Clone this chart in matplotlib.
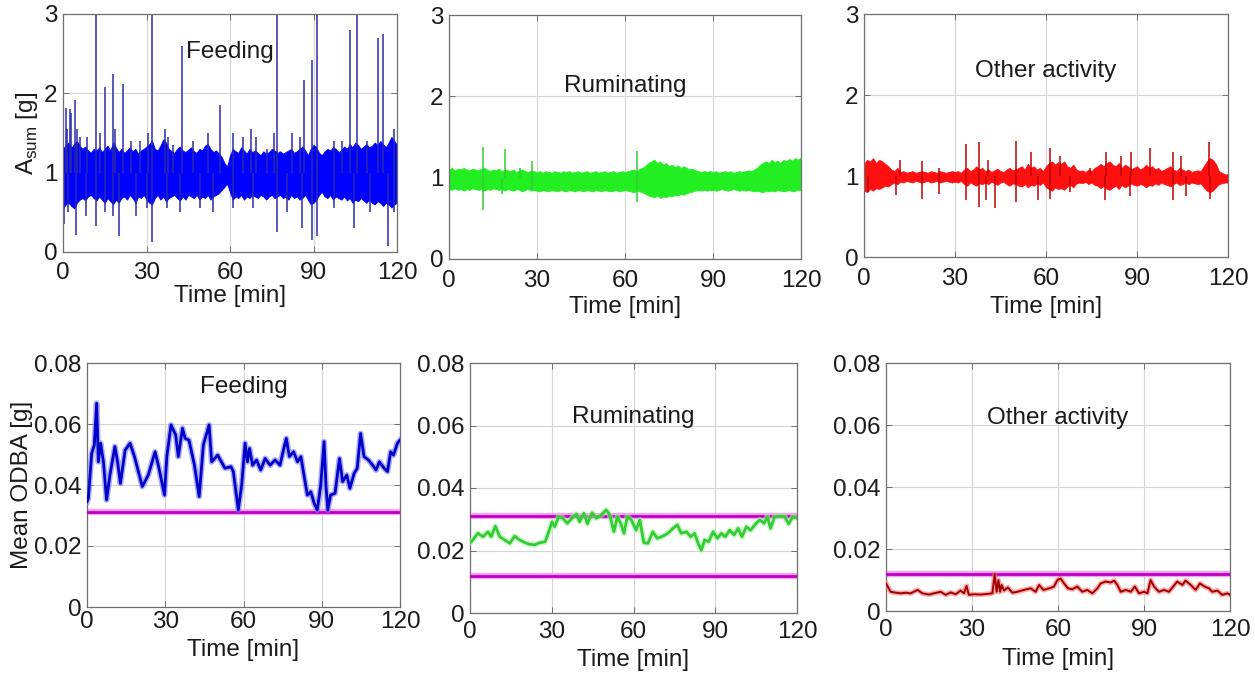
#!/usr/bin/env python3
"""
Raw acceleration (A_sum) and mean ODBA for three behaviours over 120 min.
Top row: dense raw trace (envelope + needles), bottom row: mean ODBA with thresholds.
"""

import numpy as np
import matplotlib
matplotlib.use("Agg")
import matplotlib.pyplot as plt

plt.rcParams["font.family"] = ["Liberation Sans", "DejaVu Sans"]
plt.rcParams["mathtext.fontset"] = "custom"
plt.rcParams["mathtext.rm"] = "Liberation Sans"

FS = 17.5
W, H = 1255, 675

# ---------------- top row: A_sum envelopes (per minute, t = 0..120) ----------------
t_min = np.arange(0, 121)

feed_hi = [1.30, 1.35, 1.38, 1.32, 1.36, 1.40, 1.34, 1.30, 1.33, 1.28,
           1.25, 1.30, 1.28, 1.32, 1.26, 1.30, 1.34, 1.28, 1.38, 1.32,
           1.26, 1.30, 1.25, 1.28, 1.32, 1.27, 1.30, 1.24, 1.28, 1.30,
           1.33, 1.36, 1.40, 1.30, 1.28, 1.34, 1.42, 1.38, 1.30, 1.27,
           1.25, 1.30, 1.33, 1.28, 1.26, 1.29, 1.32, 1.27, 1.25, 1.30,
           1.28, 1.34, 1.36, 1.30, 1.26, 1.28, 1.24, 1.20, 1.12, 1.08,
           1.22, 1.30, 1.27, 1.25, 1.32, 1.28, 1.24, 1.30, 1.26, 1.28,
           1.25, 1.22, 1.27, 1.24, 1.26, 1.30, 1.28, 1.25, 1.27, 1.24,
           1.26, 1.28, 1.30, 1.25, 1.27, 1.30, 1.33, 1.28, 1.22, 1.30,
           1.35, 1.32, 1.25, 1.22, 1.27, 1.30, 1.28, 1.32, 1.30, 1.26,
           1.28, 1.33, 1.30, 1.36, 1.32, 1.38, 1.35, 1.30, 1.33, 1.36,
           1.32, 1.34, 1.38, 1.35, 1.40, 1.36, 1.32, 1.38, 1.45, 1.40,
           1.35]
feed_lo = [0.55, 0.60, 0.62, 0.58, 0.55, 0.62, 0.66, 0.68, 0.65, 0.70,
           0.72, 0.68, 0.65, 0.70, 0.66, 0.62, 0.68, 0.64, 0.60, 0.66,
           0.62, 0.68, 0.70, 0.66, 0.72, 0.68, 0.62, 0.70, 0.68, 0.72,
           0.66, 0.62, 0.60, 0.68, 0.72, 0.66, 0.70, 0.64, 0.68, 0.70,
           0.72, 0.68, 0.65, 0.70, 0.66, 0.72, 0.70, 0.68, 0.72, 0.66,
           0.70, 0.68, 0.72, 0.66, 0.70, 0.72, 0.74, 0.78, 0.82, 0.86,
           0.75, 0.66, 0.70, 0.68, 0.72, 0.66, 0.70, 0.68, 0.72, 0.70,
           0.68, 0.72, 0.70, 0.66, 0.70, 0.72, 0.68, 0.70, 0.72, 0.68,
           0.70, 0.66, 0.72, 0.68, 0.70, 0.66, 0.68, 0.72, 0.66, 0.60,
           0.62, 0.66, 0.72, 0.76, 0.70, 0.68, 0.72, 0.66, 0.70, 0.68,
           0.66, 0.70, 0.65, 0.68, 0.62, 0.66, 0.64, 0.68, 0.65, 0.62,
           0.66, 0.62, 0.60, 0.64, 0.62, 0.58, 0.62, 0.60, 0.56, 0.60,
           0.62]
feed_spike_t = [1.0, 1.6, 2.4, 3.0, 4.2, 5.0, 6.0, 8.6, 11.8, 13.2, 15.0, 18.0,
                18.6, 21.6, 24.6, 27.6, 30.6, 32.0, 36.6, 37.8, 39.6, 42.6, 46.8,
                52.2, 56.4, 61.2, 64.8, 67.4, 69.4, 73.2, 75.8, 76.8, 82.2, 85.2,
                86.6, 89.4, 91.4, 97.2, 100.2, 103.0, 105.8, 109.2, 113.2, 114.8,
                118.8,
                0.3, 1.8, 4.5, 8.4, 11.8, 15.0, 18.0, 20.0, 26.4, 30.0, 32.0,
                37.2, 42.0, 49.2, 54.0, 61.2, 68.4, 76.8, 80.4, 85.8, 89.4, 91.4,
                97.2, 104.4, 110.4, 116.8, 118.8]
feed_spike_v = [1.82, 1.55, 1.80, 1.75, 1.92, 1.55, 1.45, 1.45, 3.00, 1.50, 2.08,
                2.25, 1.55, 2.12, 1.40, 1.40, 1.50, 3.00, 1.55, 1.45, 1.35, 2.60,
                1.40, 1.50, 1.85, 1.50, 1.45, 1.55, 1.45, 1.30, 1.50, 3.00, 1.50,
                1.45, 2.17, 2.42, 3.00, 1.40, 1.40, 2.80, 3.00, 1.40, 2.70, 2.75,
                1.55,
                0.35, 0.50, 0.22, 0.45, 0.33, 0.50, 0.45, 0.20, 0.45, 0.55, 0.12,
                0.55, 0.50, 0.55, 0.50, 0.55, 0.55, 0.25, 0.50, 0.30, 0.15, 0.20,
                0.55, 0.30, 0.50, 0.08, 0.50]

rum_hi = [1.10, 1.12, 1.09, 1.11, 1.10, 1.12, 1.10, 1.09, 1.11, 1.10,
          1.09, 1.11, 1.12, 1.10, 1.08, 1.10, 1.09, 1.11, 1.08, 1.10,
          1.09, 1.08, 1.10, 1.07, 1.09, 1.10, 1.08, 1.07, 1.09, 1.08,
          1.07, 1.08, 1.06, 1.08, 1.07, 1.06, 1.08, 1.07, 1.06, 1.08,
          1.07, 1.08, 1.06, 1.07, 1.08, 1.06, 1.07, 1.08, 1.06, 1.07,
          1.08, 1.06, 1.07, 1.08, 1.06, 1.07, 1.08, 1.06, 1.07, 1.08,
          1.07, 1.08, 1.09, 1.10, 1.08, 1.11, 1.12, 1.15, 1.18, 1.20,
          1.22, 1.18, 1.20, 1.16, 1.18, 1.14, 1.16, 1.13, 1.15, 1.12,
          1.14, 1.12, 1.10, 1.11, 1.09, 1.08, 1.07, 1.08, 1.07, 1.08,
          1.07, 1.08, 1.06, 1.07, 1.08, 1.07, 1.08, 1.06, 1.07, 1.08,
          1.07, 1.08, 1.09, 1.08, 1.10, 1.12, 1.16, 1.18, 1.20, 1.18,
          1.22, 1.19, 1.21, 1.18, 1.22, 1.20, 1.23, 1.21, 1.24, 1.22,
          1.25]
rum_lo = [0.86, 0.85, 0.87, 0.85, 0.86, 0.84, 0.86, 0.85, 0.87, 0.86,
          0.85, 0.86, 0.84, 0.86, 0.85, 0.87, 0.86, 0.85, 0.86, 0.84,
          0.86, 0.85, 0.84, 0.86, 0.85, 0.83, 0.85, 0.86, 0.84, 0.85,
          0.84, 0.83, 0.85, 0.84, 0.83, 0.85, 0.84, 0.83, 0.85, 0.84,
          0.83, 0.85, 0.84, 0.83, 0.85, 0.84, 0.83, 0.85, 0.84, 0.83,
          0.85, 0.84, 0.83, 0.85, 0.84, 0.83, 0.84, 0.85, 0.83, 0.84,
          0.85, 0.84, 0.83, 0.82, 0.84, 0.83, 0.82, 0.80, 0.78, 0.77,
          0.76, 0.78, 0.75, 0.77, 0.76, 0.78, 0.77, 0.79, 0.78, 0.80,
          0.79, 0.81, 0.82, 0.83, 0.84, 0.85, 0.84, 0.85, 0.84, 0.85,
          0.85, 0.84, 0.85, 0.86, 0.85, 0.84, 0.85, 0.86, 0.85, 0.84,
          0.85, 0.84, 0.85, 0.84, 0.83, 0.84, 0.83, 0.82, 0.84, 0.83,
          0.84, 0.83, 0.85, 0.84, 0.83, 0.84, 0.85, 0.83, 0.84, 0.85,
          0.85]
rum_spike_t = [11.6, 19.2, 24.1, 28.2, 64.0, 11.6, 18.0, 28.2, 64.0]
rum_spike_v = [1.38, 1.35, 1.12, 1.20, 1.33, 0.60, 0.80, 0.85, 0.70]

oth_hi = [1.15, 1.20, 1.18, 1.22, 1.16, 1.20, 1.18, 1.15, 1.12, 1.08,
          1.06, 1.10, 1.05, 1.06, 1.04, 1.05, 1.06, 1.04, 1.05, 1.06,
          1.05, 1.04, 1.06, 1.05, 1.04, 1.06, 1.05, 1.04, 1.05, 1.06,
          1.05, 1.06, 1.04, 1.08, 1.10, 1.06, 1.08, 1.12, 1.08, 1.10,
          1.06, 1.08, 1.05, 1.07, 1.09, 1.06, 1.05, 1.08, 1.10, 1.07,
          1.08, 1.10, 1.12, 1.08, 1.15, 1.10, 1.12, 1.08, 1.10, 1.06,
          1.12, 1.16, 1.18, 1.14, 1.17, 1.15, 1.18, 1.12, 1.10, 1.14,
          1.08, 1.06, 1.07, 1.05, 1.08, 1.06, 1.10, 1.12, 1.15, 1.12,
          1.16, 1.18, 1.14, 1.12, 1.16, 1.10, 1.14, 1.12, 1.08, 1.10,
          1.12, 1.08, 1.10, 1.14, 1.10, 1.12, 1.08, 1.10, 1.06, 1.08,
          1.10, 1.12, 1.08, 1.06, 1.10, 1.08, 1.06, 1.08, 1.05, 1.06,
          1.07, 1.06, 1.12, 1.18, 1.22, 1.20, 1.15, 1.06, 1.04, 1.02,
          1.02]
oth_lo = [0.82, 0.80, 0.84, 0.82, 0.85, 0.84, 0.86, 0.88, 0.87, 0.90,
          0.92, 0.90, 0.93, 0.92, 0.94, 0.93, 0.92, 0.94, 0.93, 0.92,
          0.93, 0.94, 0.92, 0.93, 0.94, 0.92, 0.93, 0.94, 0.93, 0.92,
          0.93, 0.92, 0.94, 0.90, 0.88, 0.92, 0.90, 0.88, 0.91, 0.90,
          0.92, 0.90, 0.93, 0.91, 0.89, 0.92, 0.93, 0.90, 0.88, 0.91,
          0.90, 0.88, 0.87, 0.90, 0.86, 0.89, 0.88, 0.91, 0.89, 0.92,
          0.86, 0.84, 0.82, 0.86, 0.84, 0.85, 0.83, 0.87, 0.89, 0.86,
          0.91, 0.92, 0.91, 0.93, 0.90, 0.92, 0.89, 0.88, 0.85, 0.88,
          0.84, 0.83, 0.86, 0.88, 0.84, 0.89, 0.86, 0.88, 0.91, 0.89,
          0.88, 0.90, 0.89, 0.86, 0.89, 0.88, 0.91, 0.89, 0.92, 0.90,
          0.89, 0.87, 0.90, 0.92, 0.89, 0.90, 0.92, 0.90, 0.92, 0.91,
          0.90, 0.91, 0.86, 0.82, 0.80, 0.82, 0.86, 0.90, 0.91, 0.92,
          0.92]
oth_spike_t = [11.8, 19.2, 24.7, 33.7, 37.9, 40.9, 50.2, 55.2, 61.2, 64.5, 74.4,
               79.7, 84.8, 88.1, 94.2, 101.9, 104.6, 113.7,
               1.3, 10.7, 19.0, 24.7, 33.7, 37.9, 40.3, 43.3, 50.2, 57.4, 61.2,
               67.8, 79.3, 87.6, 101.9, 106.3, 114.0]
oth_spike_v = [1.20, 1.18, 1.10, 1.40, 1.42, 1.20, 1.43, 1.30, 1.35, 1.25, 1.10,
               1.30, 1.25, 1.30, 1.35, 1.30, 1.25, 1.42,
               0.80, 0.77, 0.72, 0.78, 0.70, 0.62, 0.70, 0.60, 0.68, 0.70, 0.72,
               0.80, 0.70, 0.75, 0.70, 0.75, 0.72]

# ---------------- bottom row: mean ODBA ----------------
feed_odba_t = [0.0, 0.5, 1.8, 2.8, 3.7, 4.35, 5.2, 6.3, 7.5, 8.8, 10.7, 11.8,
               12.8, 14.6, 16.5, 18.2, 21.2, 23.5, 26.1, 27.6, 29.7, 30.6, 32.2,
               34.0, 35.0, 36.6, 37.6, 39.1, 41.2, 43.0, 44.6, 46.8, 47.8, 50.1,
               52.9, 55.2, 56.1, 58.0, 59.3, 60.6, 61.5, 62.3, 63.5, 65.0, 66.6,
               68.3, 70.2, 72.1, 74.0, 75.3, 76.4, 77.6, 79.2, 80.7, 82.0, 83.6,
               84.5, 85.8, 87.1, 88.3, 89.6, 90.9, 91.6, 92.3, 93.4, 95.1, 96.8,
               98.0, 99.6, 100.8, 102.4, 103.6, 104.9, 106.2, 107.9, 109.5, 110.8,
               112.1, 113.9, 115.2, 116.4, 117.5, 119.0, 120.0]
feed_odba_v = [0.0345, 0.0356, 0.0504, 0.0531, 0.0668, 0.0476, 0.0537, 0.0476,
               0.0351, 0.0433, 0.0526, 0.0471, 0.0405, 0.0514, 0.0537, 0.0493,
               0.0395, 0.0433, 0.0509, 0.0455, 0.0367, 0.0493, 0.0597, 0.0564,
               0.0493, 0.0586, 0.0553, 0.0547, 0.0465, 0.0362, 0.0531, 0.0597,
               0.0476, 0.0498, 0.0455, 0.0460, 0.0444, 0.0318, 0.0400, 0.0537,
               0.0476, 0.0520, 0.0465, 0.0482, 0.0449, 0.0487, 0.0465, 0.0482,
               0.0465, 0.0514, 0.0553, 0.0493, 0.0509, 0.0476, 0.0493, 0.0411,
               0.0367, 0.0378, 0.0340, 0.0318, 0.0400, 0.0542, 0.0400, 0.0318,
               0.0367, 0.0373, 0.0487, 0.0411, 0.0433, 0.0389, 0.0438, 0.0455,
               0.0569, 0.0493, 0.0482, 0.0465, 0.0449, 0.0476, 0.0455, 0.0444,
               0.0509, 0.0498, 0.0537, 0.0547]
feed_thresholds = [0.031]

rum_odba_t = [0.0, 0.5, 2.9, 4.8, 6.6, 7.8, 9.3, 10.9, 12.7, 14.6, 16.4, 18.2,
              20.1, 21.9, 23.7, 25.6, 27.6, 28.9, 30.1, 31.1, 32.5, 34.1, 35.7,
              37.4, 39.0, 40.2, 41.8, 43.1, 44.8, 46.4, 48.2, 50.0, 51.3, 52.8,
              54.1, 55.3, 56.5, 57.7, 59.2, 61.0, 62.3, 63.8, 65.3, 67.1, 68.7,
              70.8, 72.6, 74.5, 76.1, 77.5, 79.4, 81.0, 82.4, 83.7, 84.9, 86.1,
              87.6, 89.2, 90.8, 92.2, 93.7, 95.3, 96.9, 98.4, 99.8, 101.4, 103.0,
              104.5, 106.3, 107.9, 109.1, 110.3, 111.8, 113.6, 115.5, 116.9,
              118.5, 120.0]
rum_odba_v = [0.0225, 0.0228, 0.0255, 0.0244, 0.0260, 0.0244, 0.0278, 0.0244,
              0.0234, 0.0223, 0.0246, 0.0234, 0.0225, 0.0220, 0.0218, 0.0225,
              0.0228, 0.0260, 0.0292, 0.0276, 0.0308, 0.0303, 0.0287, 0.0303,
              0.0317, 0.0292, 0.0319, 0.0285, 0.0321, 0.0303, 0.0314, 0.0330,
              0.0314, 0.0260, 0.0308, 0.0287, 0.0255, 0.0308, 0.0298, 0.0265,
              0.0298, 0.0225, 0.0223, 0.0260, 0.0239, 0.0246, 0.0255, 0.0271,
              0.0282, 0.0255, 0.0260, 0.0244, 0.0255, 0.0223, 0.0201, 0.0234,
              0.0228, 0.0260, 0.0239, 0.0255, 0.0244, 0.0265, 0.0250, 0.0271,
              0.0244, 0.0276, 0.0265, 0.0282, 0.0298, 0.0287, 0.0308, 0.0271,
              0.0308, 0.0310, 0.0308, 0.0285, 0.0308, 0.0303]
rum_thresholds = [0.031, 0.012]

oth_odba_t = [0.0, 1.6, 3.4, 5.1, 6.9, 8.6, 11.0, 12.7, 15.0, 16.7, 19.1, 20.8,
              22.6, 24.3, 26.0, 27.2, 28.1, 28.9, 30.7, 33.0, 35.3, 37.1, 37.9,
              38.6, 39.2, 39.8, 40.3, 41.2, 42.5, 44.1, 45.8, 48.1, 50.5, 52.2,
              53.4, 54.9, 56.9, 58.6, 59.8, 60.9, 62.1, 63.5, 65.0, 66.7, 68.5,
              70.2, 72.0, 73.7, 74.9, 76.6, 78.4, 79.6, 80.7, 81.9, 83.7, 85.4,
              86.8, 88.3, 90.0, 91.2, 92.3, 93.5, 95.2, 97.0, 98.7, 100.2, 101.6,
              103.4, 104.5, 106.3, 108.0, 109.5, 111.1, 112.7, 113.8, 115.6,
              117.3, 119.1, 120.0]
oth_odba_v = [0.0089, 0.0062, 0.0059, 0.0057, 0.0059, 0.0057, 0.0068, 0.0057,
              0.0053, 0.0057, 0.0062, 0.0052, 0.0060, 0.0054, 0.0066, 0.0057,
              0.0081, 0.0052, 0.0054, 0.0053, 0.0055, 0.0057, 0.0119, 0.0062,
              0.0100, 0.0062, 0.0084, 0.0066, 0.0076, 0.0059, 0.0062, 0.0068,
              0.0073, 0.0062, 0.0084, 0.0068, 0.0073, 0.0079, 0.0100, 0.0105,
              0.0089, 0.0073, 0.0070, 0.0079, 0.0062, 0.0068, 0.0057, 0.0073,
              0.0089, 0.0095, 0.0092, 0.0098, 0.0084, 0.0062, 0.0068, 0.0062,
              0.0079, 0.0057, 0.0062, 0.0057, 0.0100, 0.0079, 0.0062, 0.0068,
              0.0062, 0.0079, 0.0095, 0.0084, 0.0098, 0.0084, 0.0068, 0.0089,
              0.0079, 0.0073, 0.0062, 0.0066, 0.0052, 0.0057, 0.0052]
oth_thresholds = [0.012]

TITLES = ["Feeding", "Ruminating", "Other activity"]
X_TICKS = [0, 30, 60, 90, 120]

# axes boxes in pixels: (left, top, right, bottom)
TOP_BOXES = [(63, 14, 397, 252), (449, 15, 801, 259), (864, 14, 1228, 257)]
BOT_BOXES = [(87, 363, 400, 607), (470, 363, 797, 613), (886, 363, 1230, 611)]
TOP_TITLE_Y = [0.84, 0.71, 0.765]
BOT_TITLE_Y = [0.90, 0.784, 0.78]
# x tick label pad / x label pad per panel (points)
TOP_PADS = [(7, 1), (8, 3), (8, 4)]
BOT_PADS = [(3, 4), (6, 4), (6, 5)]


def px_axes(fig, box):
    l, t, r, b = box
    return fig.add_axes([l / W, 1 - b / H, (r - l) / W, (b - t) / H])


def style(ax, xpad, lpad):
    ax.grid(True, color="#d4d4d4", lw=0.8)
    ax.set_axisbelow(True)
    for s in ax.spines.values():
        s.set_color("#6e6e6e")
        s.set_linewidth(0.9)
    ax.tick_params(direction="in", length=4, width=0.7, color="#6e6e6e",
                   labelsize=FS, labelcolor="#1a1a1a",
                   top=True, right=True)
    ax.tick_params(axis="x", pad=xpad)
    ax.tick_params(axis="y", pad=4)
    ax.set_xlim(0, 120)
    ax.set_xticks(X_TICKS)
    ax.set_xlabel("Time [min]", fontsize=FS, color="#1a1a1a", labelpad=lpad)


fig = plt.figure(figsize=(W / 100, H / 100), dpi=100)

top_data = [
    (feed_hi, feed_lo, feed_spike_t, feed_spike_v, "#0000ff", "#2b2ba6"),
    (rum_hi, rum_lo, rum_spike_t, rum_spike_v, "#22ee22", "#33cc33"),
    (oth_hi, oth_lo, oth_spike_t, oth_spike_v, "#ff1010", "#c00000"),
]
for i, (hi, lo, st, sv, col, spcol) in enumerate(top_data):
    ax = px_axes(fig, TOP_BOXES[i])
    style(ax, *TOP_PADS[i])
    ax.fill_between(t_min, lo, hi, color=col, lw=0.6, edgecolor=col)
    ax.vlines(st, 1.0, sv, color=spcol, lw=1.1)
    ax.set_ylim(0, 3)
    ax.set_yticks([0, 1, 2, 3])
    ax.text(0.5, TOP_TITLE_Y[i], TITLES[i], transform=ax.transAxes,
            ha="center", va="center", fontsize=FS, color="#1a1a1a")
    if i == 0:
        ax.set_ylabel(r"A$_{\mathrm{sum}}$ [g]", fontsize=FS, color="#1a1a1a",
                      labelpad=3)

bot_data = [
    (feed_odba_t, feed_odba_v, feed_thresholds, "#0000c8", "#7777ff", 2.0),
    (rum_odba_t, rum_odba_v, rum_thresholds, "#33cc33", "#aaf0aa", 2.0),
    (oth_odba_t, oth_odba_v, oth_thresholds, "#a00000", "#ff7070", 1.4),
]
for i, (tt, vv, thr, col, halo, lw) in enumerate(bot_data):
    ax = px_axes(fig, BOT_BOXES[i])
    style(ax, *BOT_PADS[i])
    for y in thr:
        ax.axhline(y, color="#f4a0f4", lw=4.5, zorder=2)
        ax.axhline(y, color="#c000c0", lw=2.0, zorder=3)
    ax.plot(tt, vv, color=halo, lw=lw + 2.2, alpha=0.6, zorder=4)
    ax.plot(tt, vv, color=col, lw=lw, zorder=5)
    ax.set_ylim(0, 0.08)
    ax.set_yticks([0, 0.02, 0.04, 0.06, 0.08])
    ax.set_yticklabels(["0", "0.02", "0.04", "0.06", "0.08"])
    ax.text(0.5, BOT_TITLE_Y[i], TITLES[i], transform=ax.transAxes,
            ha="center", va="center", fontsize=FS, color="#1a1a1a")
    if i == 0:
        ax.set_ylabel("Mean ODBA [g]", fontsize=FS, color="#1a1a1a", labelpad=1)

fig.savefig("out.png", dpi=100)
print("Saved out.png")
